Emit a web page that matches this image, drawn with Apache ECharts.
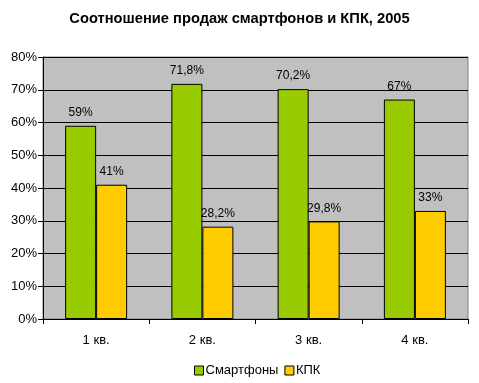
<!DOCTYPE html>
<html><head><meta charset="utf-8">
<script src="https://cdn.jsdelivr.net/npm/echarts@6/dist/echarts.min.js"></script>
<style>html,body{margin:0;padding:0;background:#fff}#c{width:479px;height:383px}</style>
</head><body><div id="c"></div>
<script>
const categories = ['1 кв.', '2 кв.', '3 кв.', '4 кв.'];
const smartphones = [59, 71.8, 70.2, 67];
const pda = [41, 28.2, 29.8, 33];
const seriesNames = ['Смартфоны', 'КПК'];
const titleText = 'Соотношение продаж смартфонов и КПК, 2005';

const fmt = v => String(v).replace('.', ',') + '%';
const chart = echarts.init(document.getElementById('c'));
const font = 'Liberation Sans, Arial, sans-serif';
chart.setOption({
  animation: false,
  title: { text: titleText, left: 'center', top: 6,
    textStyle: { fontFamily: font, fontSize: 14.7, fontWeight: 'bold', color: '#000' } },
  legend: { bottom: 1, left: 189, itemWidth: 9, itemHeight: 9, itemGap: 6,
    icon: 'rect',
    textStyle: { fontFamily: font, fontSize: 13, color: '#000', padding: [0, 0, 0, -3] },
    data: seriesNames.map(n => ({ name: n, itemStyle: { borderColor: '#000', borderWidth: 1 } })) },
  grid: { left: 43, right: 11, top: 57, bottom: 64, show: true,
    backgroundColor: '#C0C0C0', borderColor: '#808080', borderWidth: 1 },
  xAxis: { type: 'category', data: categories,
    axisLine: { lineStyle: { color: '#000' } },
    axisTick: { show: true, length: 5, lineStyle: { color: '#000' } },
    axisLabel: { fontFamily: font, fontSize: 13, color: '#000', margin: 15 } },
  yAxis: { type: 'value', min: 0, max: 80, interval: 10,
    axisLine: { show: true, lineStyle: { color: '#000' } },
    axisTick: { show: true, length: 5, lineStyle: { color: '#000' } },
    splitLine: { lineStyle: { color: '#000', width: 1 } },
    axisLabel: { fontFamily: font, fontSize: 13, color: '#000', margin: 6,
      formatter: v => v + '%' } },
  series: [
    { name: seriesNames[0], type: 'bar', data: smartphones, barWidth: 31, barGap: '0%',
      itemStyle: { color: '#99CC00', borderColor: '#000', borderWidth: 1 },
      label: { show: true, position: 'top', distance: 7, fontFamily: font, fontSize: 12, color: '#000',
        formatter: p => fmt(p.value) } },
    { name: seriesNames[1], type: 'bar', data: pda, barWidth: 31,
      itemStyle: { color: '#FFCC00', borderColor: '#000', borderWidth: 1 },
      label: { show: true, position: 'top', distance: 7, fontFamily: font, fontSize: 12, color: '#000',
        formatter: p => fmt(p.value) } }
  ]
});
</script></body></html>
